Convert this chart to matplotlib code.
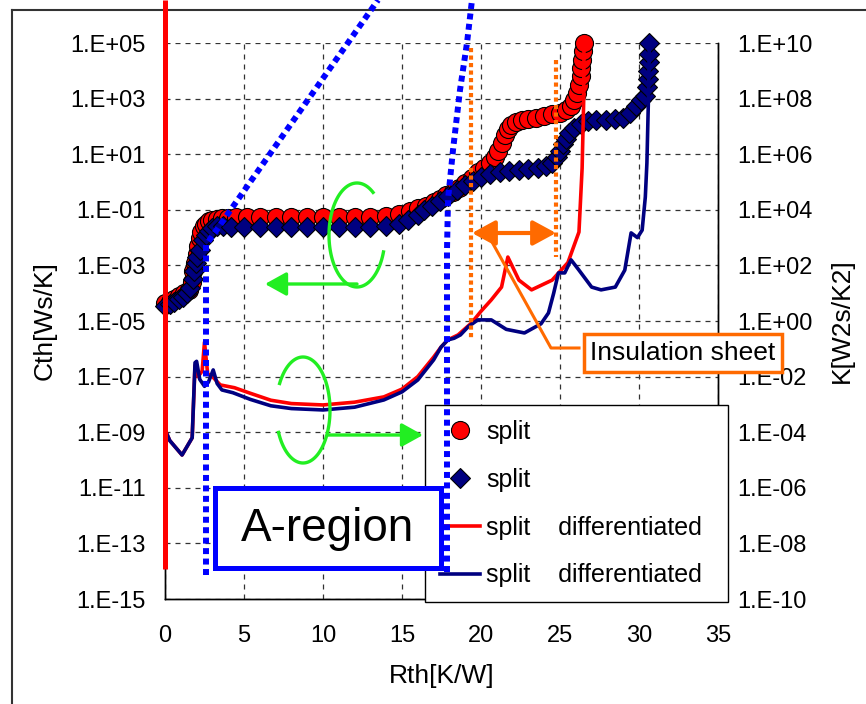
import numpy as np
import matplotlib
matplotlib.use("Agg")
import matplotlib.pyplot as plt
from matplotlib.ticker import FixedLocator, FuncFormatter, NullLocator
from matplotlib.patches import Rectangle, FancyArrowPatch

plt.rcParams["font.family"] = ["Liberation Sans", "DejaVu Sans"]

# structure function Cth (left axis), exponents log10(Cth)
rth_red = [0.0, 0.3, 0.6, 0.9, 1.2, 1.5, 1.7, 1.8, 1.9, 2.0, 2.1, 2.2, 2.3, 2.45,
           2.6, 2.8, 3.0, 3.3, 3.6, 4.0, 4.5, 5.2, 6.0, 7.0, 8.0, 9.0, 10.0, 11.0,
           12.0, 13.0, 14.0, 14.8, 15.5, 16.0, 16.5, 17.0, 17.4, 17.8, 18.2, 18.6,
           19.0, 19.4, 19.8, 20.2, 20.6, 20.9, 21.1, 21.3, 21.5, 21.7, 21.9, 22.2,
           22.6, 23.0, 23.5, 24.0, 24.5, 25.0, 25.4, 25.7, 25.9, 26.1, 26.2, 26.3,
           26.35, 26.4, 26.45, 26.5]
cth_red_exp = [-4.35, -4.3, -4.2, -4.1, -4.0, -3.9, -3.6, -3.2, -2.9, -2.6, -2.3,
               -2.0, -1.8, -1.6, -1.5, -1.42, -1.37, -1.33, -1.3, -1.28, -1.27,
               -1.26, -1.25, -1.25, -1.25, -1.25, -1.25, -1.25, -1.25, -1.25, -1.22,
               -1.15, -1.05, -0.95, -0.85, -0.72, -0.6, -0.48, -0.35, -0.2, -0.05,
               0.15, 0.35, 0.5, 0.68, 0.9, 1.1, 1.4, 1.7, 1.9, 2.05, 2.15, 2.22,
               2.27, 2.32, 2.37, 2.43, 2.5, 2.6, 2.75, 2.95, 3.2, 3.5, 3.8, 4.1,
               4.4, 4.7, 5.0]

rth_blue = [0.0, 0.3, 0.6, 0.9, 1.15, 1.4, 1.6, 1.75, 1.85, 1.95, 2.05, 2.2, 2.4,
            2.6, 2.8, 3.0, 3.3, 3.7, 4.2, 5.0, 6.0, 7.0, 8.0, 9.0, 10.0, 11.0, 12.0,
            13.0, 14.0, 14.8, 15.4, 16.0, 16.4, 16.9, 17.4, 17.9, 18.5, 19.0, 19.5,
            20.0, 20.6, 21.2, 21.8, 22.4, 23.0, 23.6, 24.1, 24.5, 24.8, 25.0, 25.2,
            25.4, 25.6, 25.9, 26.3, 26.8, 27.3, 27.9, 28.5, 29.0, 29.4, 29.8, 30.1,
            30.35, 30.5, 30.55, 30.6, 30.62, 30.65, 30.65]
cth_blue_exp = [-4.45, -4.4, -4.3, -4.2, -4.14, -4.0, -3.8, -3.5, -3.2, -2.9, -2.7,
                -2.45, -2.1, -1.9, -1.75, -1.65, -1.58, -1.6, -1.62, -1.63, -1.63,
                -1.63, -1.63, -1.63, -1.63, -1.63, -1.63, -1.63, -1.6, -1.5, -1.38,
                -1.2, -1.0, -0.85, -0.68, -0.5, -0.3, -0.12, 0.05, 0.18, 0.3, 0.36,
                0.4, 0.42, 0.45, 0.5, 0.58, 0.68, 0.9, 1.1, 1.35, 1.55, 1.75, 1.95,
                2.1, 2.2, 2.23, 2.22, 2.25, 2.32, 2.5, 2.75, 2.95, 3.1, 3.4, 3.7,
                4.0, 4.3, 4.6, 5.0]

# differentiated structure function K (right axis), exponents log10(K)
rth_red_k = [0.0, 0.3, 1.08, 1.72, 1.9, 2.1, 2.35, 2.5, 2.7, 3.0, 3.5, 4.4, 5.4,
             6.7, 8.0, 10.0, 12.0, 13.85, 15.0, 16.0, 17.0, 17.47, 17.9, 18.55,
             19.4, 20.0, 20.65, 21.3, 21.7, 22.4, 23.2, 24.5, 25.5, 26.2, 26.4,
             26.5, 26.52]
k_red_exp = [-3.9, -4.3, -4.82, -4.2, -1.6, -2.0, -1.8, -0.76, -1.9, -2.0, -2.3,
             -2.4, -2.6, -2.85, -2.97, -3.02, -2.92, -2.73, -2.45, -2.0, -1.3,
             -0.94, -0.68, -0.5, -0.07, 0.35, 0.76, 1.22, 2.3, 1.47, 1.12, 1.47,
             2.1, 3.2, 5.5, 7.95, 10.0]

rth_blue_k = [0.0, 0.3, 1.08, 1.72, 1.9, 2.0, 2.2, 2.5, 2.75, 3.05, 3.3, 3.6, 4.3,
              5.4, 6.7, 8.0, 10.0, 12.0, 13.85, 15.0, 16.0, 17.0, 17.47, 17.9,
              18.3, 18.7, 19.2, 19.8, 20.65, 21.6, 22.75, 23.8, 24.27, 24.6, 24.9,
              25.3, 25.7, 26.2, 27.0, 27.6, 28.5, 29.1, 29.5, 29.9, 30.2, 30.4,
              30.5, 30.6, 30.65]
k_blue_exp = [-3.9, -4.3, -4.82, -4.2, -1.5, -1.45, -2.1, -2.35, -2.2, -1.76,
              -2.25, -2.48, -2.58, -2.82, -3.05, -3.15, -3.2, -3.1, -2.84, -2.55,
              -2.12, -1.4, -0.94, -0.68, -0.62, -0.5, -0.2, 0.04, 0.04, -0.3,
              -0.43, -0.1, 0.29, 1.0, 1.73, 1.73, 2.2, 1.83, 1.22, 1.12, 1.22,
              1.83, 3.17, 3.0, 3.27, 4.46, 5.68, 8.06, 9.9]

labels = ["split", "split", "split    differentiated", "split    differentiated"]
left_exps = list(range(-15, 6, 2))
right_exps = list(range(-10, 11, 2))

RED, NAVY = "#FF0000", "#000080"
BLUE, ORANGE, GREEN = "#0000FF", "#FF6A00", "#22EE22"

W, H = 866, 704
fig = plt.figure(figsize=(W / 100, H / 100), dpi=100)
ax = fig.add_axes([165 / W, 1 - 599 / H, (718 - 165) / W, (599 - 43) / H])
ax2 = ax.twinx()

fmt = FuncFormatter(lambda v, p: f"1.E{int(round(np.log10(v))):+03d}")

ax.plot(rth_red, 10.0 ** np.array(cth_red_exp), ls="none", marker="o", ms=13,
        mfc=RED, mec="black", mew=0.8, label=labels[0], clip_on=False)
ax.plot(rth_blue, 10.0 ** np.array(cth_blue_exp), ls="none", marker="D", ms=10.5,
        mfc=NAVY, mec="black", mew=0.8, label=labels[1], clip_on=False)
ax2.plot(rth_red_k, 10.0 ** np.array(k_red_exp), color=RED, lw=2.6, label=labels[2])
ax2.plot(rth_blue_k, 10.0 ** np.array(k_blue_exp), color=NAVY, lw=2.6, label=labels[3])

for a, exps in ((ax, left_exps), (ax2, right_exps)):
    a.set_yscale("log")
    a.set_ylim(10.0 ** exps[0], 10.0 ** exps[-1])
    a.yaxis.set_major_locator(FixedLocator([10.0 ** e for e in exps]))
    a.yaxis.set_minor_locator(NullLocator())
    a.yaxis.set_major_formatter(fmt)
    a.spines["top"].set_visible(False)
    for s in a.spines.values():
        s.set_linewidth(1.0)
ax.set_xlim(0, 35)
ax.set_xticks(range(0, 36, 5))
ax.tick_params(axis="y", length=0, pad=14, labelsize=17)
ax.tick_params(axis="x", length=0, pad=19, labelsize=17)
ax2.tick_params(axis="y", length=0, pad=13.5, labelsize=17)
ax.grid(True, ls=(0, (4, 4)), color="#333333", lw=0.9)

ax.set_xlabel("Rth[K/W]", fontsize=19, va="center")
ax.xaxis.set_label_coords(0.5, (599 - 676) / 556)
ax.set_ylabel("Cth[Ws/K]", fontsize=19, va="center")
ax.yaxis.set_label_coords((45 - 165) / 553, 0.5)
ax2.set_ylabel("K[W2s/K2]", fontsize=19, va="center")
ax2.yaxis.set_label_coords((842 - 165) / 553, 0.5)

h1, l1 = ax.get_legend_handles_labels()
h2, l2 = ax2.get_legend_handles_labels()
leg = ax2.legend(h1 + h2, l1 + l2, loc="upper left", mode="expand",
                 bbox_to_anchor=(425 / W, 1 - 405 / H, 303 / W, 0.0),
                 bbox_transform=fig.transFigure, borderaxespad=0, fontsize=18,
                 fancybox=False, framealpha=1, edgecolor="black", handlelength=1.6,
                 handletextpad=0.25, labelspacing=0.95, borderpad=0.6)
leg.get_frame().set_linewidth(1.0)

# annotation overlay in pixel coordinates
ov = fig.add_axes([0, 0, 1, 1])
ov.set_xlim(0, W)
ov.set_ylim(H, 0)
ov.axis("off")
ov.set_zorder(10)

ov.plot([12, W], [10, 10], color="#333333", lw=1.5)
ov.plot([12, 12], [10, H], color="#333333", lw=1.5)

ov.plot([165, 165], [0, 569], color=RED, lw=3.6, solid_capstyle="butt")

dot_b = dict(color=BLUE, lw=4.3, ls=(0, (1, 0.75)), dash_capstyle="butt")
ov.plot([206, 206, 378], [575, 245, 0], **dot_b)
ov.plot([447, 447, 448, 453, 460, 467, 472], [572, 250, 200, 150, 90, 43, 0], **dot_b)

dot_o = dict(color=ORANGE, lw=3.0, ls=(0, (1, 0.8)), dash_capstyle="butt")
ov.plot([471, 471], [48, 340], **dot_o)
ov.plot([556, 556], [60, 257], **dot_o)
ov.add_patch(FancyArrowPatch((472, 233), (556, 233), arrowstyle="<|-|>,head_length=0.7,head_width=0.38",
                             mutation_scale=20, color=ORANGE, lw=3.0, shrinkA=0, shrinkB=0))
ov.plot([487, 551, 579], [233, 348, 348], color=ORANGE, lw=2.2)
ov.text(683, 353, "Insulation sheet", fontsize=19, ha="center", va="center",
        bbox=dict(boxstyle="square,pad=0.25", fc="white", ec=ORANGE, lw=2.5))


def arc(cx, cy, rx, ry, a1, a2):
    t = np.radians(np.linspace(a1, a2, 120))
    ov.plot(cx + rx * np.cos(t), cy - ry * np.sin(t), color=GREEN, lw=2.4)


arc(357, 235, 28, 52, 55, 341)
ov.add_patch(FancyArrowPatch((357, 284), (265, 284), arrowstyle="-|>,head_length=0.65,head_width=0.36",
                             mutation_scale=20, color=GREEN, lw=2.4, shrinkA=0, shrinkB=0))
arc(303, 410, 27, 53, -155, 150)
ov.add_patch(FancyArrowPatch((328, 435), (423, 435), arrowstyle="-|>,head_length=0.65,head_width=0.36",
                             mutation_scale=20, color=GREEN, lw=2.4, shrinkA=0, shrinkB=0))

ov.add_patch(Rectangle((215, 488), 226, 80, fc="white", ec=BLUE, lw=3.6))
ov.text(328, 529, "A-region", fontsize=33, ha="center", va="center")

fig.savefig("out.png", dpi=100)
